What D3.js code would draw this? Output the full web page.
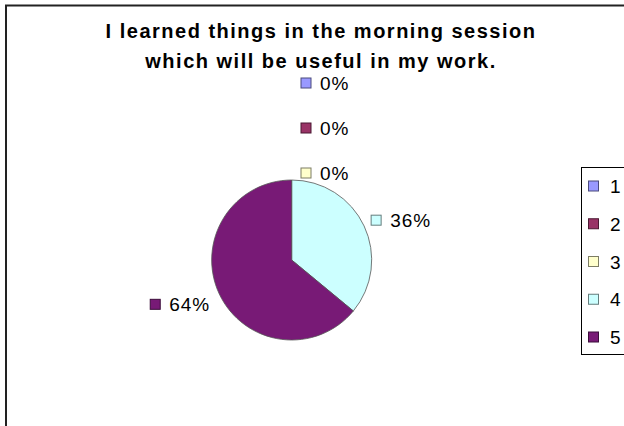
<!DOCTYPE html>
<html lang="en">
<head>
  <title>Morning session pie</title>
  <meta charset="UTF-8">
  <style>
    body { margin: 0; background: #fff; font-family: "Liberation Sans", Arial, sans-serif; }
  </style>
  <script src="https://cdn.jsdelivr.net/npm/d3@7"></script>
</head>
<body>
  <script>
    var titleLines = ["I learned things in the morning session", "which will be useful in my work."];
    var categories = ["1", "2", "3", "4", "5"];
    var values = [0, 0, 0, 36, 64];
    var colors = ["#9999ff", "#993366", "#ffffcc", "#ccffff", "#781a76"];

    var w = 624, h = 426;
    var cx = 291.7, cy = 260, r = 80;

    var svg = d3.select("body").append("svg").attr("width", w).attr("height", h);

    // chart frame (runs off the right and bottom)
    svg.append("rect")
      .attr("x", 6).attr("y", 5.5).attr("width", 700).attr("height", 500)
      .attr("fill", "none").attr("stroke", "#222").attr("stroke-width", 2);

    // title
    svg.append("g").selectAll("text")
      .data(titleLines)
      .enter().append("text")
      .attr("x", 321)
      .attr("y", function(d, i) { return 38 + i * 30; })
      .attr("text-anchor", "middle")
      .style("font-size", "20px")
      .style("font-weight", "bold")
      .style("letter-spacing", "1.5px")
      .text(function(d) { return d; });

    var color = d3.scaleOrdinal().domain(categories).range(colors);
    var total = d3.sum(values);
    var pie = d3.pie().sort(null).value(function(d) { return d.v; });
    var arcs = pie(categories.map(function(c, i) { return { c: c, v: values[i] }; }));
    var arc = d3.arc().innerRadius(0).outerRadius(r);

    var g = svg.append("g").attr("transform", "translate(" + cx + "," + cy + ")");
    g.selectAll("path")
      .data(arcs.filter(function(d) { return d.data.v > 0; }))
      .enter().append("path")
      .attr("d", arc)
      .attr("fill", function(d) { return color(d.data.c); })
      .attr("stroke", "#555")
      .attr("stroke-width", 0.8);

    // data labels
    var labels = svg.append("g");
    var zeroCount = arcs.filter(function(d) { return d.data.v === 0; }).length;
    var zi = 0;
    arcs.forEach(function(d) {
      var txt = d3.format(".0%")(d.data.v / total);
      var lx, ly, right;
      if (d.data.v === 0) {
        // Excel stacks zero-size slice labels above the pie
        lx = cx + 9.3;
        ly = cy - 87 - (zeroCount - 1 - zi) * 45;
        zi++;
        right = true;
      } else {
        var a = (d.startAngle + d.endAngle) / 2;
        var ax = cx + Math.sin(a) * 90, ay = cy - Math.cos(a) * 90;
        right = Math.sin(a) >= 0;
        lx = right ? ax - 2 : ax;
        ly = right ? ay - 1.5 : ay + 6;
      }
      var lg = labels.append("g");
      var t = lg.append("text")
        .attr("y", ly + 7)
        .style("font-size", "19px")
        .style("letter-spacing", "1px")
        .text(txt);
      var sq = lg.append("rect")
        .attr("y", ly - 5).attr("width", 10).attr("height", 10)
        .attr("fill", color(d.data.c))
        .attr("stroke", d3.color(color(d.data.c)).darker(2))
        .attr("stroke-width", 1);
      if (right) {
        sq.attr("x", lx);
        t.attr("x", lx + 19);
      } else {
        var tw = t.node().getComputedTextLength();
        t.attr("x", lx - tw);
        sq.attr("x", lx - tw - 19);
      }
    });

    // legend
    var ly = d3.scalePoint().domain(categories).range([186, 337]);
    svg.append("rect")
      .attr("x", 581.5).attr("y", 167.5).attr("width", 80).attr("height", 187)
      .attr("fill", "#fff").attr("stroke", "#000").attr("stroke-width", 1);
    var item = svg.append("g").selectAll("g")
      .data(categories)
      .enter().append("g")
      .attr("transform", function(d) { return "translate(588," + ly(d) + ")"; });
    item.append("rect")
      .attr("x", 0.5).attr("y", -5).attr("width", 10).attr("height", 10)
      .attr("fill", function(d) { return color(d); })
      .attr("stroke", function(d) { return d3.color(color(d)).darker(2); });
    item.append("text")
      .attr("x", 22).attr("y", 7)
      .style("font-size", "19px")
      .text(function(d) { return d; });
  </script>
</body>
</html>
